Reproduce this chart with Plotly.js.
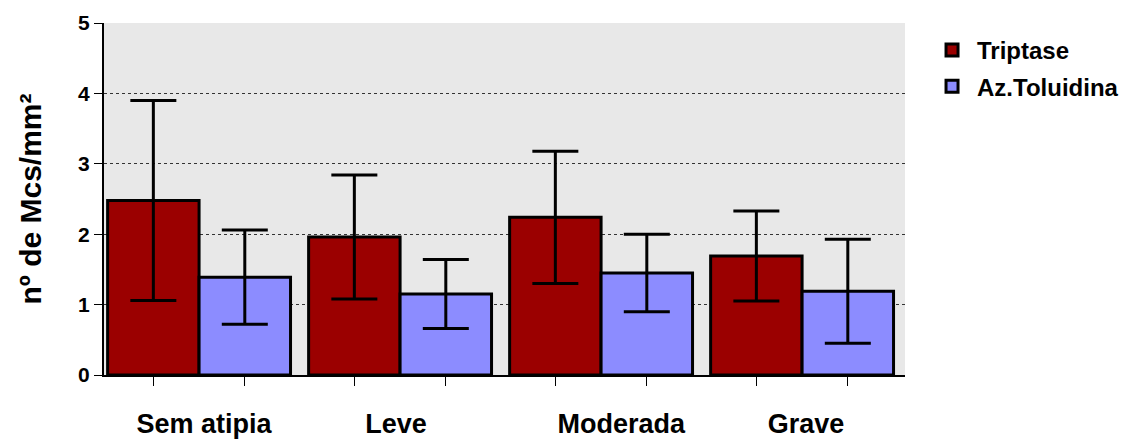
<!DOCTYPE html>
<html>
<head>
<meta charset="utf-8">
<script src="https://cdn.plot.ly/plotly-3.0.1.min.js"></script>
<style>html,body{margin:0;padding:0;background:#fff;}#chart{width:1124px;height:441px;}</style>
</head>
<body>
<div id="chart"></div>
<script>
const categories = ["Sem atipia", "Leve", "Moderada", "Grave"];
const seriesNames = ["Triptase", "Az.Toluidina"];
const triptaseMean = [2.48, 1.96, 2.24, 1.69];
const triptaseErr = [1.42, 0.88, 0.94, 0.64];
const toluidinaMean = [1.39, 1.15, 1.45, 1.19];
const toluidinaErr = [0.67, 0.49, 0.55, 0.74];
const yTicks = [0, 1, 2, 3, 4, 5];

const barOffset = 0.2275;
const tickPositions = [];
categories.forEach((c, i) => { tickPositions.push(i - barOffset, i + barOffset); });
const labelShift = [0.025, -0.02, 0.1, 0.02];
const labelPositions = categories.map((c, i) => i + labelShift[i]);
const xRange = [-0.473, 3.512];

const traces = [
  {
    type: 'bar', name: seriesNames[0], x: categories, y: triptaseMean, legendgroup: 'a',
    marker: {color: '#9b0000', line: {color: '#000', width: 3}},
    error_y: {type: 'data', array: triptaseErr, visible: true, color: '#000', thickness: 3, width: 23}
  },
  {
    type: 'bar', name: seriesNames[1], x: categories, y: toluidinaMean, legendgroup: 'b',
    marker: {color: '#8c8cff', line: {color: '#000', width: 3}},
    error_y: {type: 'data', array: toluidinaErr, visible: true, color: '#000', thickness: 3, width: 23}
  },
  {
    type: 'scatter', mode: 'markers', x: tickPositions, y: tickPositions.map(() => 0),
    xaxis: 'x2', yaxis: 'y', marker: {opacity: 0, size: 1}, showlegend: false, hoverinfo: 'skip'
  },
  {
    type: 'scatter', mode: 'markers', x: labelPositions, y: labelPositions.map(() => 0),
    xaxis: 'x3', yaxis: 'y', marker: {opacity: 0, size: 1}, showlegend: false, hoverinfo: 'skip'
  }
];

const layout = {
  width: 1124, height: 441,
  margin: {l: 104, r: 219, t: 23, b: 65.5, autoexpand: false},
  paper_bgcolor: '#ffffff',
  plot_bgcolor: '#e8e8e8',
  barmode: 'group', bargap: 0.09, bargroupgap: 0,
  font: {family: 'Liberation Sans, Arial, sans-serif', color: '#000'},
  xaxis: {
    type: 'category', range: xRange, showticklabels: false, ticks: '',
    showline: true, linecolor: '#000', linewidth: 2, showgrid: false, zeroline: false, fixedrange: true
  },
  xaxis2: {
    overlaying: 'x', anchor: 'y', side: 'bottom', range: xRange, type: 'linear',
    tickmode: 'array', tickvals: tickPositions, ticktext: tickPositions.map(() => ''),
    ticks: 'outside', ticklen: 10, tickwidth: 1, tickcolor: '#000',
    showline: false, showgrid: false, zeroline: false
  },
  xaxis3: {
    overlaying: 'x', anchor: 'y', side: 'bottom', range: xRange, type: 'linear',
    tickmode: 'array', tickvals: labelPositions, ticktext: categories,
    ticks: '', ticklabelstandoff: 30,
    tickfont: {family: 'Liberation Sans Narrow, Arial Narrow, sans-serif', size: 27, weight: 'bold', color: '#000'},
    showline: false, showgrid: false, zeroline: false
  },
  yaxis: {
    range: [0, 5], tickmode: 'array', tickvals: yTicks,
    ticks: 'outside', ticklen: 8, tickwidth: 1, tickcolor: '#000',
    tickfont: {family: 'Liberation Sans, Arial, sans-serif', size: 21, weight: 'bold', color: '#000'},
    showline: true, linecolor: '#000', linewidth: 2,
    showgrid: true, gridcolor: '#333', griddash: 'dot', gridwidth: 1,
    zeroline: false, fixedrange: true,
    title: {text: 'nº de Mcs/mm²', standoff: 28,
      font: {family: 'Liberation Sans, Arial, sans-serif', size: 30, weight: 'bold', color: '#000'}}
  },
  showlegend: true,
  legend: {
    x: 1.0275, y: 0.986, xanchor: 'left', yanchor: 'top',
    font: {family: 'Liberation Sans Narrow, Arial Narrow, sans-serif', size: 24, weight: 'bold', color: '#000'},
    bgcolor: 'rgba(0,0,0,0)', itemwidth: 40, tracegroupgap: 2
  }
};

Plotly.newPlot('chart', traces, layout, {displayModeBar: false, staticPlot: true});
</script>
</body>
</html>
